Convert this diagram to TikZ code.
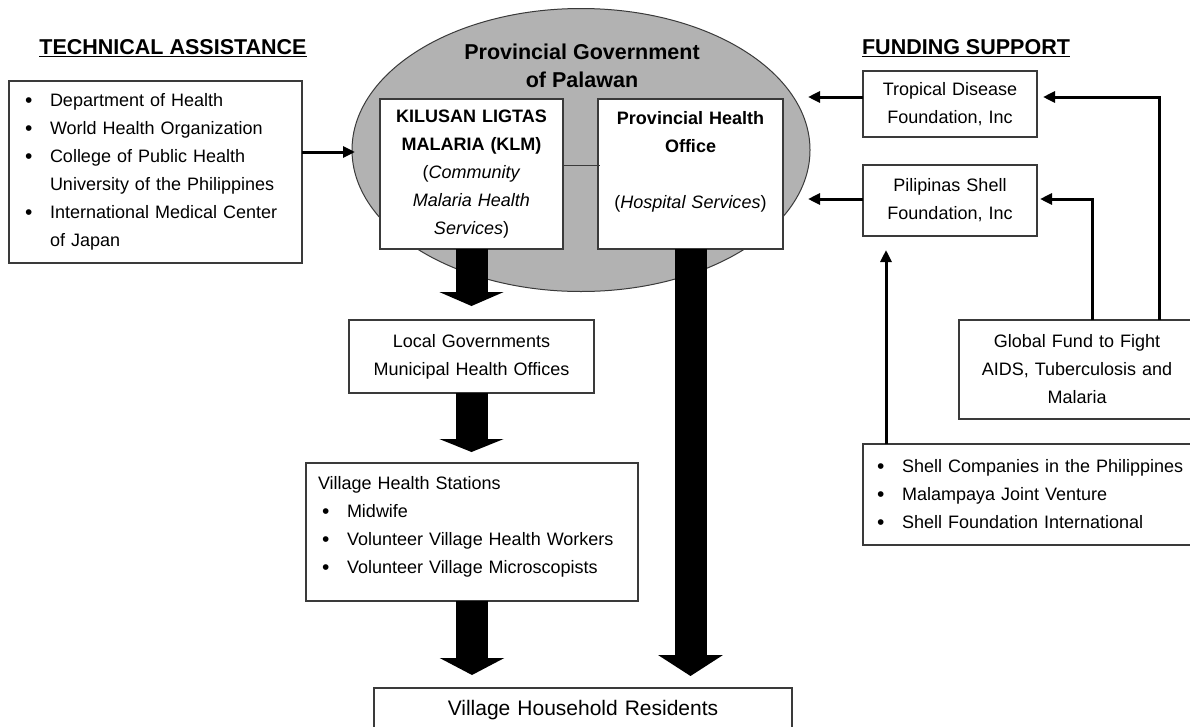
\documentclass[tikz,border=0pt]{standalone}
\usepackage{fontspec}
\setmainfont{Liberation Sans}
\usetikzlibrary{arrows.meta,shapes.geometric,calc}
\definecolor{boxc}{HTML}{3A3A3A}
\definecolor{ellc}{HTML}{B2B2B2}
\newcommand\mynormal{\fontsize{18}{28}\selectfont}
\newcommand\mytitle{\fontsize{21.5}{28}\selectfont\bfseries}
\newcommand\mybul{\makebox[25pt][l]{\raisebox{-0.5pt}{\fontsize{21}{28}\selectfont\textbullet}}}
\begin{document}
\begin{tikzpicture}[x=1pt,y=-1pt,
  box/.style={draw=boxc, line width=1.2pt, fill=white, anchor=north west, inner ysep=0pt, outer sep=0pt, font=\mynormal},
  thinarr/.style={line width=3pt, draw=black, -{Triangle[length=12pt,width=11pt]}},
  bigarr/.style={line width=32pt, draw=black, -{Triangle[length=#1,width=64pt]}},
  bigarr/.default=15pt]
\useasboundingbox (0,0) rectangle (1190,726);
\clip (0,0) rectangle (1190,726);

% ellipse
\node[ellipse, draw=boxc, line width=1pt, fill=ellc, minimum width=458pt, minimum height=283pt, inner sep=0pt] (pg) at (581,150) {};
\node[font=\mytitle, align=center] (pgt) at (582,66) {Provincial Government\\of Palawan};

% titles
\node[font=\mytitle] (tat) at (173,48) {\underline{TECHNICAL ASSISTANCE}};
\node[font=\mytitle] (fst) at (966,48) {\underline{FUNDING SUPPORT}};

% left box
\node[box, text width=261pt, inner xsep=16pt, minimum height=182pt, align=left] (ta) at (9,81) {%
\mybul Department of Health\\
\mybul World Health Organization\\
\mybul College of Public Health\\
\hspace*{25pt}University of the Philippines\\
\mybul International Medical Center\\
\hspace*{25pt}of Japan};

% inner boxes
\node[box, text width=173pt, inner xsep=5pt, minimum height=150pt, align=center] (klm) at (380,99) {%
\textbf{KILUSAN LIGTAS}\\\textbf{MALARIA (KLM)}\\(\textit{Community}\\\textit{Malaria Health}\\\textit{Services})};
\node[box, text width=175pt, inner xsep=5pt, minimum height=150pt, align=center] (pho) at (598,99) {%
\textbf{Provincial Health}\\\textbf{Office}\\[28pt](\textit{Hospital Services})\\\mbox{}};

% funding boxes
\node[box, text width=164pt, inner xsep=5pt, minimum height=66pt, align=center] (tdf) at (863,71) {Tropical Disease\\Foundation, Inc};
\node[box, text width=164pt, inner xsep=5pt, minimum height=71pt, align=center] (ps) at (863,165) {Pilipinas Shell\\Foundation, Inc};
\node[box, text width=220pt, inner xsep=8pt, minimum height=99pt, align=center] (gf) at (959,320) {Global Fund to Fight\\AIDS, Tuberculosis and\\Malaria};
\node[box, text width=322pt, inner xsep=14pt, minimum height=101pt, align=left] (sh) at (863,444) {%
\mybul Shell Companies in the Philippines\\
\mybul Malampaya Joint Venture\\
\mybul Shell Foundation International};

% lower chain
\node[box, text width=235pt, inner xsep=5pt, minimum height=73pt, align=center] (lgu) at (349,320) {Local Governments\\Municipal Health Offices};
\node[box, text width=308pt, inner xsep=12pt, minimum height=138pt, align=left] (vhs) at (306,463) {%
Village Health Stations\\
\hspace*{4pt}\mybul Midwife\\
\hspace*{4pt}\mybul Volunteer Village Health Workers\\
\hspace*{4pt}\mybul Volunteer Village Microscopists\\[-14pt]\mbox{}};
\node[box, text width=408pt, inner xsep=5pt, minimum height=44pt, align=center, font=\fontsize{21}{28}\selectfont] (vhr) at (374,688) {Village Household Residents};

% connectors
\coordinate (taTip) at (355,152);
\coordinate (tdfTip) at (808,97);
\coordinate (psTip) at (808,199);
\draw[thinarr] ([yshift=20pt]ta.east) -- (taTip);
\draw[thinarr] ([yshift=7pt]tdf.west) -- (tdfTip);
\draw[thinarr] ([yshift=1.5pt]ps.west) -- (psTip);
\draw[thinarr] ($(gf.north west)+(133,0)$) |- ([yshift=1.5pt,xshift=3pt]ps.east);
\draw[thinarr] ($(gf.north west)+(200,0)$) |- ([yshift=7pt,xshift=6pt]tdf.east);
\draw[thinarr] ($(sh.north west)+(23,0)$) -- ($(ps.south west)+(23,14)$);

\draw[boxc, line width=1pt] ([yshift=9pt]klm.east) -- ([yshift=9pt,xshift=2pt]pho.west);

\draw[bigarr=14pt] (klm.south) -- ([yshift=14pt]klm.south |- lgu.north);
\draw[bigarr=13pt] (lgu.south) -- ([yshift=11pt]lgu.south |- vhs.north);
\draw[bigarr=17pt] (vhs.south) -- ([yshift=13pt]vhs.south |- vhr.north);
\draw[bigarr=21pt] (pho.south) -- ([yshift=12pt]pho.south |- vhr.north);
\end{tikzpicture}
\end{document}
